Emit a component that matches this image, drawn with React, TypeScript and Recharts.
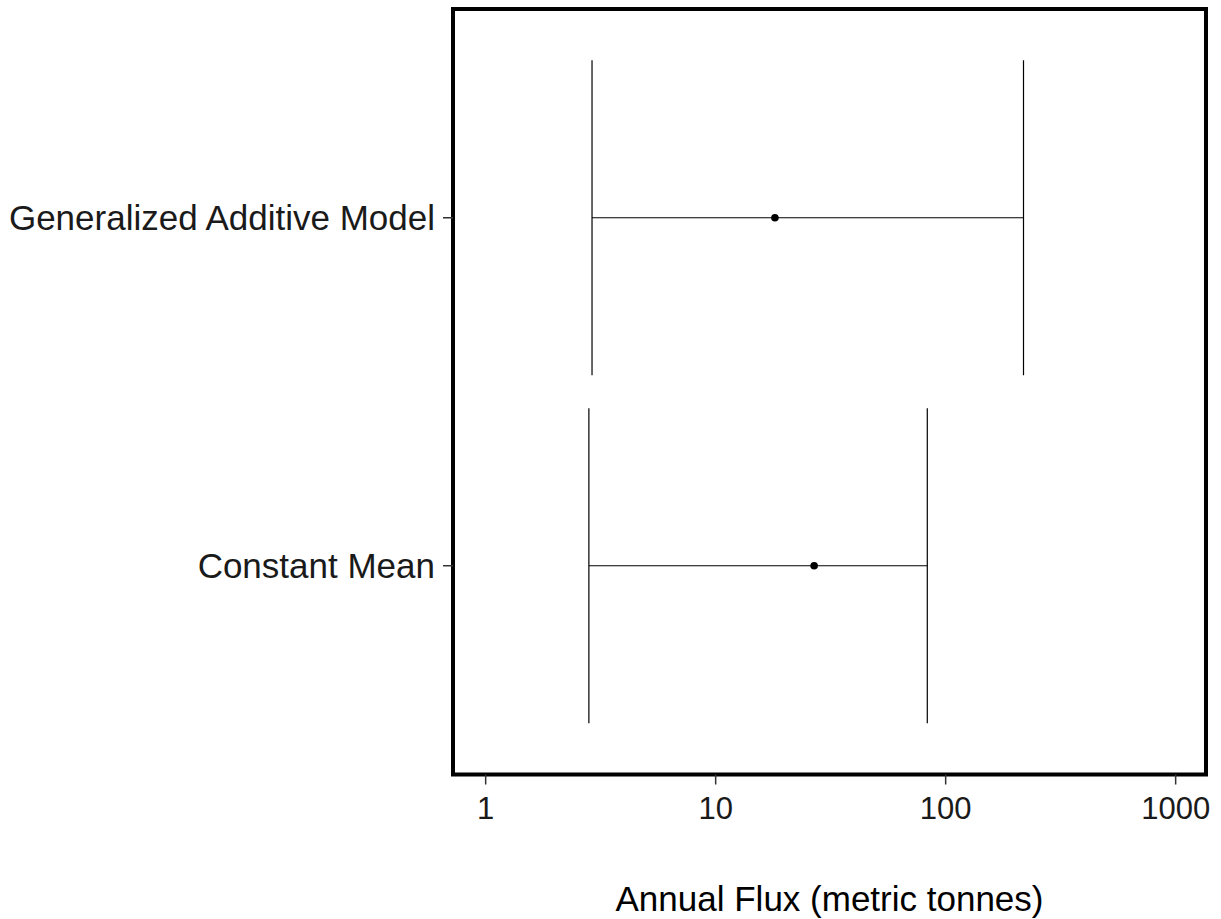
import React from 'react';
import { ScatterChart, Scatter, XAxis, YAxis, ErrorBar, ReferenceArea, Label } from 'recharts';

// Annual flux estimates with lower / upper bounds (metric tonnes)
const models = ['Constant Mean', 'Generalized Additive Model'];
const estimates = [26.8, 18.1];
const lowerBounds = [2.81, 2.9];
const upperBounds = [83.2, 218];

const xTicks = [1, 10, 100, 1000];
const xDomain = [0.721, 1355];
const yDomain = [0.4, 2.6];

const data = models.map((name, i) => ({
  name,
  pos: i + 1,
  flux: estimates[i],
  err: [estimates[i] - lowerBounds[i], upperBounds[i] - estimates[i]],
}));

const FONT = '"Liberation Sans", Arial, Helvetica, sans-serif';

const Dot = (props: any) => {
  const { cx, cy } = props;
  return <circle cx={cx} cy={cy} r={3.8} fill="#000" />;
};

export default function App() {
  return (
    <div style={{ position: 'absolute', left: 0, top: 0, fontFamily: FONT, background: '#fff' }}>
      <ScatterChart width={1221} height={919} margin={{ top: 9, right: 15, left: 0, bottom: 0 }}>
        <XAxis
          type="number"
          dataKey="flux"
          scale="log"
          domain={xDomain}
          allowDataOverflow
          ticks={xTicks}
          axisLine={false}
          tickLine={{ stroke: '#333', strokeWidth: 1.5 }}
          tickSize={10}
          tickMargin={12}
          height={144.5}
          tick={{ fill: '#1a1a1a', fontSize: 31, fontFamily: FONT }}
        >
          <Label
            value="Annual Flux (metric tonnes)"
            position="insideBottom"
            offset={8}
            style={{ fill: '#000', fontSize: 35, fontFamily: FONT }}
          />
        </XAxis>
        <YAxis
          type="number"
          dataKey="pos"
          domain={yDomain}
          allowDataOverflow
          ticks={[1, 2]}
          tickFormatter={(v: number) => models[v - 1]}
          axisLine={false}
          tickLine={{ stroke: '#333', strokeWidth: 1.5 }}
          tickSize={10}
          tickMargin={8}
          width={453}
          tick={{ fill: '#1a1a1a', fontSize: 35, fontFamily: FONT }}
        />
        <Scatter data={data} shape={Dot} isAnimationActive={false}>
          <ErrorBar
            dataKey="err"
            direction="x"
            width={157.5}
            stroke="#000"
            strokeWidth={1.2}
            isAnimationActive={false}
          />
        </Scatter>
        <ReferenceArea
          x1={xDomain[0]}
          x2={xDomain[1]}
          y1={yDomain[0]}
          y2={yDomain[1]}
          fill="none"
          stroke="#000"
          strokeWidth={4}
          ifOverflow="visible"
        />
      </ScatterChart>
    </div>
  );
}
